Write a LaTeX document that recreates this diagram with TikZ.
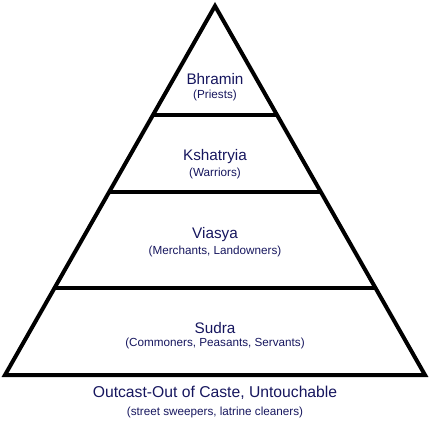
\documentclass[tikz,border=0pt]{standalone}
\usepackage{fontspec}
\setmainfont{Liberation Sans}
\usetikzlibrary{calc}
\definecolor{txt}{HTML}{16165E}
\begin{document}
\begin{tikzpicture}[x=1pt,y=-1pt,
  edge/.style={line width=4pt,line join=miter,line cap=butt},
  big/.style={text=txt,font=\fontsize{15.3}{17}\selectfont,inner sep=0pt},
  small/.style={text=txt,font=\fontsize{11.7}{13}\selectfont,inner sep=0pt}]
\useasboundingbox (0,0) rectangle (430,420);
\coordinate (apex) at (215,6);
\coordinate (bl) at (5,375);
\coordinate (br) at (425,375);
\draw[edge] (apex) -- (bl) -- (br) -- cycle;
\foreach \y in {115,192,288}{
  \draw[edge] ($(apex)!{(\y-6)/369}!(bl)$) -- ($(apex)!{(\y-6)/369}!(br)$);
}
\node[big] (b1) at (215,79) {Bhramin};
\node[small] (b2) at (215,95) {(Priests)};
\node[big] (k1) at (215,157) {Kshatryia};
\node[small] (k2) at (215,173) {(Warriors)};
\node[big] (v1) at (215,235) {Viasya};
\node[small] (v2) at (215,251) {(Merchants, Landowners)};
\node[big] (s1) at (215,328) {Sudra};
\node[small] (s2) at (215,343) {(Commoners, Peasants, Servants)};
\node[big,font=\fontsize{15.7}{18}\selectfont] (o1) at (215,393) {Outcast-Out of Caste, Untouchable};
\node[small] (o2) at (215,412) {(street sweepers, latrine cleaners)};
\end{tikzpicture}
\end{document}
